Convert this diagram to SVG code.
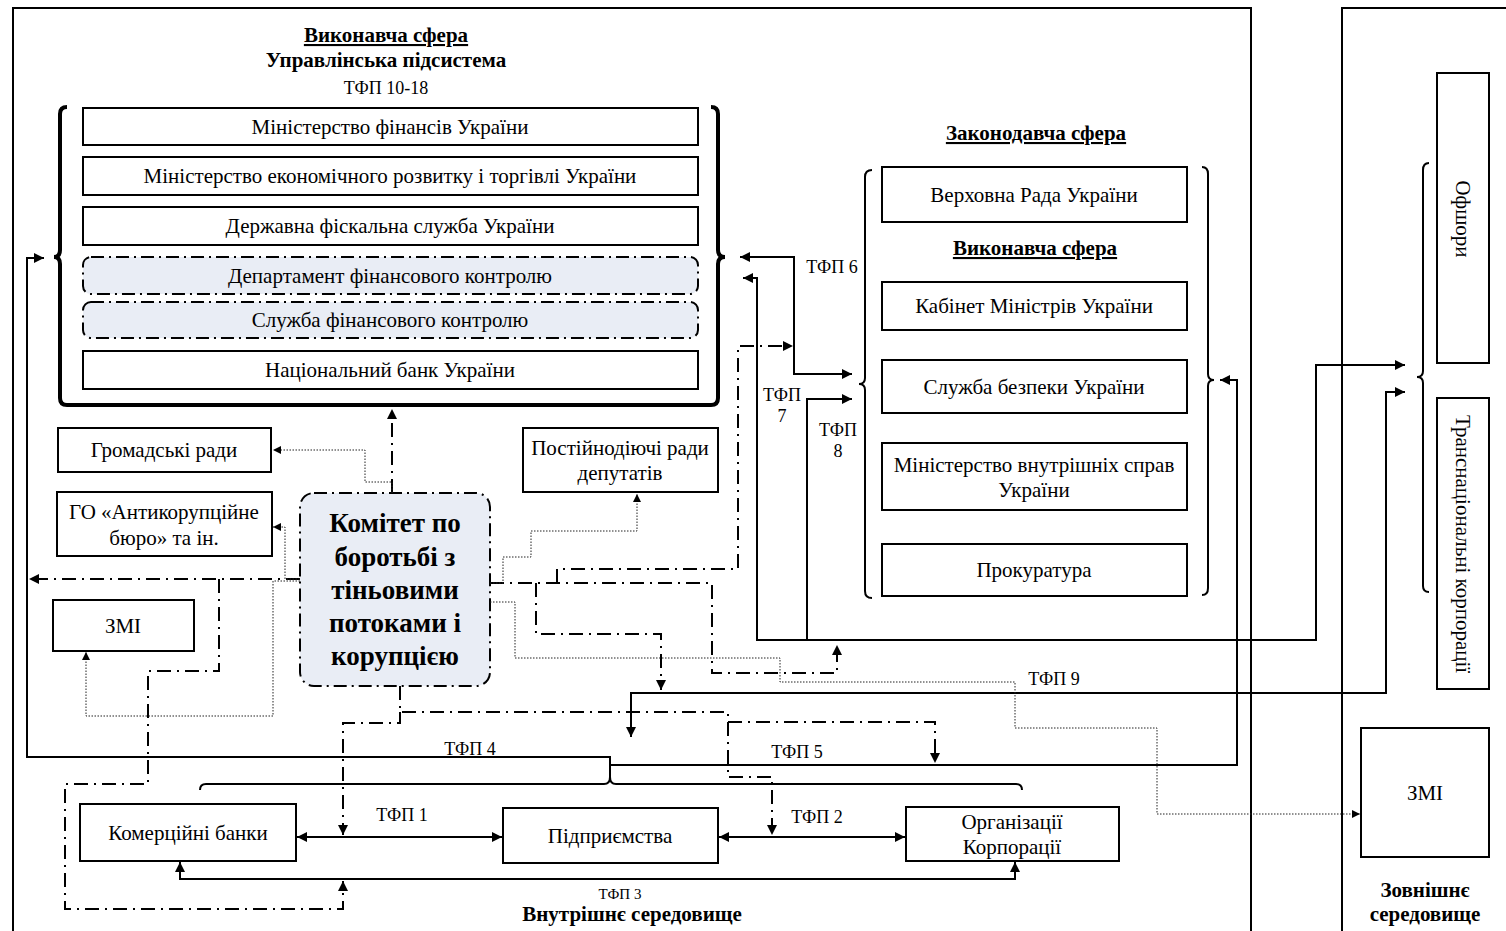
<svg xmlns="http://www.w3.org/2000/svg" width="1506" height="931" viewBox="0 0 1506 931">
<defs>
<style>
.frame{fill:none;stroke:#000;stroke-width:2}
.box{fill:#fff;stroke:#000;stroke-width:2}
.dbox{fill:#e9edf5;stroke:#000;stroke-width:2;stroke-dasharray:13 5 2 5}
.t{font-family:"Liberation Serif",serif;font-size:21px;text-anchor:middle;fill:#000}
.s{font-size:18px}
.b{font-weight:bold}
.u{text-decoration:underline}
.big{font-size:27px;font-weight:bold}
.solid{fill:none;stroke:#000;stroke-width:2}
.brace{fill:none;stroke:#000;stroke-width:2}
.thick{fill:none;stroke:#000;stroke-width:4}
.dd{fill:none;stroke:#000;stroke-width:2;stroke-dasharray:14 6 2 6}
.dot{fill:none;stroke:#222;stroke-width:1;stroke-dasharray:1.5 1.5}
</style>
<marker id="a" viewBox="0 0 10 10" refX="10" refY="5" markerWidth="11" markerHeight="10" markerUnits="userSpaceOnUse" orient="auto-start-reverse"><path d="M0,0L10,5L0,10z" fill="#000"/></marker>
<marker id="m" viewBox="0 0 10 10" refX="10" refY="5" markerWidth="8" markerHeight="8" markerUnits="userSpaceOnUse" orient="auto-start-reverse"><path d="M0,0L10,5L0,10z" fill="#000"/></marker>
</defs>
<rect width="1506" height="931" fill="#fff"/>
<g id="frames">
<rect class="frame" x="13" y="8" width="1238" height="940"/>
<rect class="frame" x="1342" y="8" width="200" height="940"/>
</g>
<g id="titles">
<text class="t b u" x="386" y="42">Виконавча сфера</text>
<text class="t b" x="386" y="67">Управлінська підсистема</text>
<text class="t s" x="386" y="94">ТФП 10-18</text>
<text class="t b u" x="1036" y="140">Законодавча сфера</text>
<text class="t b u" x="1035" y="255">Виконавча сфера</text>
<text class="t b" x="632" y="921">Внутрішнє середовище</text>
<text class="t b" x="1425" y="897">Зовнішнє</text>
<text class="t b" x="1425" y="921">середовище</text>
</g>
<g id="braces">
<path class="thick" d="M67,107 Q60,107 60,114 V250 Q60,257 54,257 Q60,257 60,264 V398 Q60,405 67,405 H711 Q718,405 718,398 V264 Q718,257 725,257 Q718,257 718,250 V114 Q718,107 711,107"/>
<path class="brace" d="M872,170 Q865,170 865,177 V378 Q865,384 859,384 Q865,384 865,390 V591 Q865,598 872,598"/>
<path class="brace" d="M1202,167 Q1208,167 1208,174 V374 Q1208,380 1214,380 Q1208,380 1208,386 V588 Q1208,595 1202,595"/>
<path class="brace" d="M1429,163 Q1423,163 1423,170 V371 Q1423,377 1417,377 Q1423,377 1423,383 V586 Q1423,592 1429,592"/>
<path class="brace" d="M200,790 Q200,784 206,784 H604 Q610,784 610,777 Q610,784 616,784 H1016 Q1022,784 1022,790"/>
</g>
<g id="n-minfin"><rect class="box" x="83" y="108" width="615" height="37"/><text class="t" x="390" y="134">Міністерство фінансів України</text></g>
<g id="n-mineco"><rect class="box" x="83" y="157" width="615" height="38"/><text class="t" x="390" y="183">Міністерство економічного розвитку і торгівлі України</text></g>
<g id="n-dfs"><rect class="box" x="83" y="207" width="615" height="38"/><text class="t" x="390" y="233">Державна фіскальна служба України</text></g>
<g id="n-dep"><rect class="dbox" x="83" y="257" width="615" height="37" rx="8"/><text class="t" x="390" y="283">Департамент фінансового контролю</text></g>
<g id="n-sfk"><rect class="dbox" x="83" y="302" width="615" height="36" rx="8"/><text class="t" x="390" y="327">Служба фінансового контролю</text></g>
<g id="n-nbu"><rect class="box" x="83" y="351" width="615" height="38"/><text class="t" x="390" y="377">Національний банк України</text></g>
<g id="n-gromrady"><rect class="box" x="58" y="428" width="213" height="44"/><text class="t" x="164" y="457">Громадські ради</text></g>
<g id="n-go"><rect class="box" x="57" y="492" width="215" height="64"/><text class="t" x="164" y="519">ГО «Антикорупційне</text><text class="t" x="164" y="545">бюро» та ін.</text></g>
<g id="n-zmi-left"><rect class="box" x="53" y="600" width="141" height="51"/><text class="t" x="123" y="633">ЗМІ</text></g>
<g id="n-committee"><rect class="dbox" x="300" y="493" width="190" height="193" rx="14"/>
<text class="t big" x="395" y="532">Комітет по</text><text class="t big" x="395" y="566">боротьбі з</text><text class="t big" x="395" y="599">тіньовими</text><text class="t big" x="395" y="632">потоками і</text><text class="t big" x="395" y="665">корупцією</text></g>
<g id="n-postrady"><rect class="box" x="523" y="428" width="195" height="64"/><text class="t" x="620" y="455">Постійнодіючі ради</text><text class="t" x="620" y="480">депутатів</text></g>
<g id="n-vru"><rect class="box" x="882" y="167" width="305" height="55"/><text class="t" x="1034" y="202">Верховна Рада України</text></g>
<g id="n-kmu"><rect class="box" x="882" y="282" width="305" height="48"/><text class="t" x="1034" y="313">Кабінет Міністрів України</text></g>
<g id="n-sbu"><rect class="box" x="882" y="360" width="305" height="53"/><text class="t" x="1034" y="394">Служба безпеки України</text></g>
<g id="n-mvs"><rect class="box" x="882" y="443" width="305" height="67"/><text class="t" x="1034" y="472">Міністерство внутрішніх справ</text><text class="t" x="1034" y="497">України</text></g>
<g id="n-prok"><rect class="box" x="882" y="544" width="305" height="52"/><text class="t" x="1034" y="577">Прокуратура</text></g>
<g id="n-offshore"><rect class="box" x="1437" y="73" width="52" height="290"/><text class="t" transform="translate(1463,219) rotate(90)" x="0" y="7">Офшори</text></g>
<g id="n-tnk"><rect class="box" x="1437" y="398" width="52" height="291"/><text class="t" transform="translate(1463,544) rotate(90)" x="0" y="7">Транснаціональні корпорації</text></g>
<g id="n-zmi-right"><rect class="box" x="1361" y="728" width="128" height="129"/><text class="t" x="1425" y="800">ЗМІ</text></g>
<g id="n-banks"><rect class="box" x="80" y="804" width="216" height="57"/><text class="t" x="188" y="840">Комерційні банки</text></g>
<g id="n-pidpr"><rect class="box" x="503" y="808" width="215" height="55"/><text class="t" x="610" y="843">Підприємства</text></g>
<g id="n-org"><rect class="box" x="906" y="807" width="213" height="54"/><text class="t" x="1012" y="829">Організації</text><text class="t" x="1012" y="854">Корпорації</text></g>
<g id="connectors">
<path class="solid" d="M297,837 H502" marker-start="url(#a)" marker-end="url(#a)"/>
<path class="solid" d="M719,837 H905" marker-start="url(#a)" marker-end="url(#a)"/>
<path class="solid" d="M180,862 V879 H1015 V862" marker-start="url(#a)" marker-end="url(#a)"/>
<path class="solid" d="M610,777 V757 H27 V258 H44" marker-end="url(#a)"/>
<path class="solid" d="M610,765 H1237 V380 H1220" marker-end="url(#a)"/>
<path class="solid" d="M740,257 H794 V374 H852" marker-start="url(#a)" marker-end="url(#a)"/>
<path class="solid" d="M743,278 H757 V640 H1316 V365 H1405" marker-start="url(#a)" marker-end="url(#a)"/>
<path class="solid" d="M807,640 V399 H852" marker-end="url(#a)"/>
<path class="solid" d="M631,737 V693 H1386 V392 H1405" marker-start="url(#a)" marker-end="url(#a)"/>
<path class="dd" d="M392,493 V409" marker-end="url(#a)"/>
<path class="dd" d="M300,579 H29" marker-end="url(#a)"/>
<path class="dd" d="M219,579 V671 H148 V784 H65 V909 H343 V881" marker-end="url(#a)"/>
<path class="dd" d="M400,686 V712 H728 V777 H772 V835" marker-end="url(#a)"/>
<path class="dd" d="M400,712 V723 H343 V835" marker-end="url(#a)"/>
<path class="dd" d="M728,722 H935 V763" marker-end="url(#a)"/>
<path class="dd" d="M490,583 H712 V673 H837 V645" marker-end="url(#a)"/>
<path class="dd" d="M536,583 V634 H661 V690" marker-end="url(#a)"/>
<path class="dd" d="M557,583 V569 H738 V346 H793" marker-end="url(#a)"/>
<path class="dot" d="M392,493 V482 H365 V450 H273" marker-end="url(#m)"/>
<path class="dot" d="M300,579 H285 V527 H273" marker-end="url(#m)"/>
<path class="dot" d="M300,581 H273 V716 H86 V652" marker-end="url(#m)"/>
<path class="dot" d="M490,583 H503 V557 H531 V531 H637 V494" marker-end="url(#m)"/>
<path class="dot" d="M490,602 H515 V658 H780 V682 H1015 V728 H1157 V814 H1360" marker-end="url(#m)"/>
</g>
<g id="labels">
<text class="t s" x="832" y="273">ТФП 6</text>
<text class="t s" x="782" y="401">ТФП</text>
<text class="t s" x="782" y="422">7</text>
<text class="t s" x="838" y="436">ТФП</text>
<text class="t s" x="838" y="457">8</text>
<text class="t s" x="1054" y="685">ТФП 9</text>
<text class="t s" x="470" y="755">ТФП 4</text>
<text class="t s" x="797" y="758">ТФП 5</text>
<text class="t s" x="402" y="821">ТФП 1</text>
<text class="t s" x="817" y="823">ТФП 2</text>
<text class="t" style="font-size:15px" x="620" y="899">ТФП 3</text>
</g>
</svg>
